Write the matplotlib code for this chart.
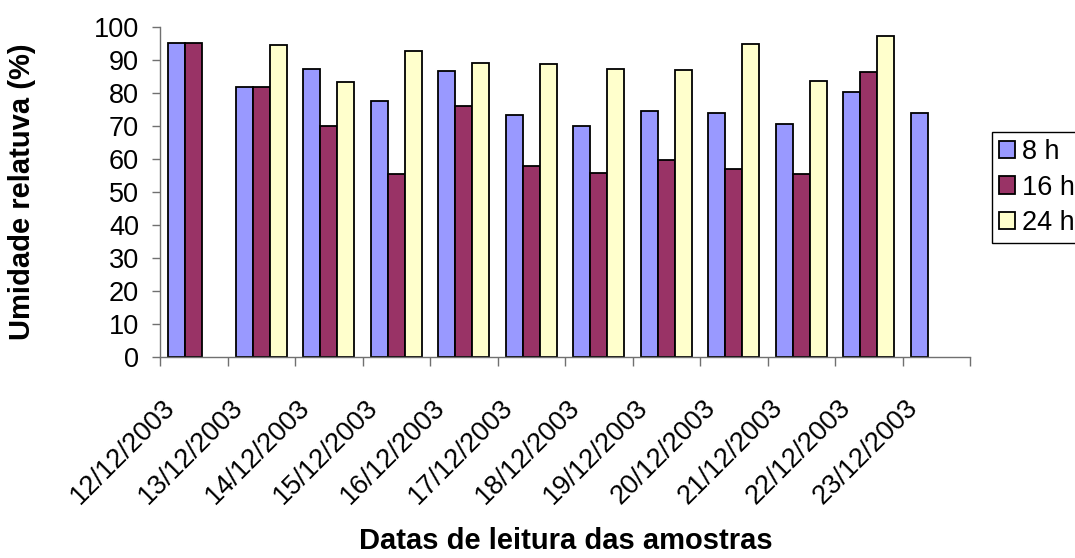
import numpy as np
import matplotlib.pyplot as plt
from matplotlib.transforms import ScaledTranslation

plt.rcParams['font.family'] = ['Liberation Sans', 'DejaVu Sans']

# Relative humidity (%) read at 8 h, 16 h and 24 h each day
dates = ["12/12/2003", "13/12/2003", "14/12/2003", "15/12/2003", "16/12/2003",
         "17/12/2003", "18/12/2003", "19/12/2003", "20/12/2003", "21/12/2003",
         "22/12/2003", "23/12/2003"]
series_names = ["8 h", "16 h", "24 h"]
h08 = [95.3, 81.7, 87.2, 77.6, 86.8, 73.3, 69.9, 74.6, 73.9, 70.6, 80.3, 73.9]
h16 = [95.3, 81.7, 70.0, 55.6, 76.0, 57.9, 55.7, 59.6, 57.1, 55.6, 86.3, np.nan]
h24 = [np.nan, 94.6, 83.3, 92.6, 89.1, 88.8, 87.2, 87.0, 94.7, 83.5, 97.4, np.nan]
colors = ["#9999FF", "#993366", "#FFFFCC"]

FS = 19.5     # tick labels / legend
FS_LAB = 21   # bold axis titles

fig = plt.figure(figsize=(10.75, 5.58), dpi=100)
ax = fig.add_axes([160 / 1075, 1 - 357 / 558, 810 / 1075, 330 / 558])

n = len(dates)
centers = np.arange(n) + 0.5
width = 0.25
for k, (vals, name, c) in enumerate(zip([h08, h16, h24], series_names, colors)):
    ax.bar(centers + (k - 1) * width, vals, width, color=c, edgecolor="black",
           linewidth=1.3, label=name)

ax.set_xlim(0, n)
ax.set_ylim(0, 100)
ax.set_yticks(range(0, 101, 10))

# tick marks between categories, labels at category centres
ax.set_xticks(np.arange(n + 1))
ax.set_xticklabels([])
ax.set_xticks(centers, minor=True)
ax.set_xticklabels(dates, minor=True, rotation=45, ha="right", va="top", fontsize=FS)
ax.tick_params(axis="x", which="minor", length=0, pad=27)
ax.tick_params(axis="x", which="major", length=6.5, width=1, color="#707070", direction="out")
ax.tick_params(axis="y", length=6, width=1, color="#707070", labelsize=FS, pad=9)
shift = ScaledTranslation(-13 / 100, 0, fig.dpi_scale_trans)
for lab in ax.get_xticklabels(minor=True):
    lab.set_transform(lab.get_transform() + shift)

for s in ["top", "right"]:
    ax.spines[s].set_visible(False)
for s in ["left", "bottom"]:
    ax.spines[s].set_color("#707070")
    ax.spines[s].set_linewidth(1)

ax.set_ylabel("Umidade relatuva (%)", fontsize=FS_LAB, fontweight="bold", va="center")
ax.yaxis.set_label_coords(-138 / 810, 0.5)
fig.text(566 / 1075, 1 - 541 / 558, "Datas de leitura das amostras", fontsize=FS_LAB,
         fontweight="bold", ha="center", va="center")

leg = fig.legend(loc="upper left", bbox_to_anchor=(992 / 1075, 1 - 132 / 558),
                 fontsize=FS, frameon=True, fancybox=False, framealpha=1,
                 edgecolor="black", handlelength=0.6, handleheight=0.6,
                 handletextpad=0.25, borderpad=0.25, labelspacing=0.36,
                 borderaxespad=0)
leg.get_frame().set_linewidth(1)

fig.savefig("out.png", dpi=100)
